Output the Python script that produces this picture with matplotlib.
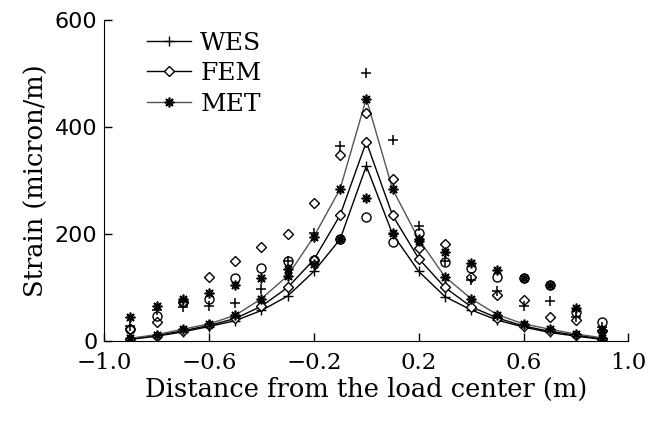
import numpy as np
import matplotlib
matplotlib.use('Agg')
from matplotlib import pyplot as plt

# distance from load center (m)
x = [-0.9, -0.8, -0.7, -0.6, -0.5, -0.4, -0.3, -0.2, -0.1, 0.0,
     0.1, 0.2, 0.3, 0.4, 0.5, 0.6, 0.7, 0.8, 0.9]

# model lines
wes = [3, 9, 17, 27, 38, 57, 84, 130, 190, 327, 200, 130, 83, 58, 39, 26, 16, 9, 3]
fem = [4, 10, 19, 29, 42, 65, 100, 152, 235, 372, 235, 154, 100, 64, 43, 28, 18, 11, 4]
met = [5, 12, 22, 32, 48, 79, 122, 195, 284, 453, 284, 190, 120, 79, 49, 32, 22, 13, 6]

# measured points
meas_plus = [28, 58, 64, 66, 71, 98, 150, 201, 365, 500, 375, 214, 150, 114, 94, 66, 75, 45, 26]
meas_diam = [22, 36, 72, 120, 150, 176, 200, 258, 348, 426, 302, 174, 181, 120, 86, 77, 45, 39, 18]
meas_circ = [22, 47, 72, 78, 118, 137, 150, 152, 190, 231, 184, 202, 148, 137, 120, 118, 105, 54, 36]
meas_star = [45, 66, 79, 90, 105, 118, 135, 143, 190, 267, 202, 186, 167, 146, 133, 118, 105, 62, 21]

xticks = [-1.0, -0.6, -0.2, 0.2, 0.6, 1.0]
yticks = [0, 200, 400, 600]

serif = 'DejaVu Serif'
star = (8, 2, 0)

fig = plt.figure(figsize=(6.6, 4.22), dpi=100)
ax = fig.add_axes([0.158, 0.192, 0.794, 0.761])

ax.plot(x, wes, color='black', lw=1.0, marker='+', ms=7, mew=1.0, label='WES')
ax.plot(x, fem, color='black', lw=1.0, marker='D', ms=5, mfc='white', mew=1.0, label='FEM')
ax.plot(x, met, color='#555555', lw=1.0, marker=star, ms=7, mew=1.2, mec='black', label='MET')

ax.plot(x, meas_plus, ls='none', color='black', marker='+', ms=7, mew=1.1)
ax.plot(x, meas_diam, ls='none', color='black', marker='D', ms=5.5, mfc='none', mew=1.0)
ax.plot(x, meas_circ, ls='none', color='black', marker='o', ms=6.5, mfc='none', mew=1.0)
ax.plot(x, meas_star, ls='none', color='black', marker=star, ms=7, mew=1.2)

ax.set_xlim(-1.0, 1.0)
ax.set_ylim(0, 600)
ax.set_xticks(xticks)
ax.set_xticklabels(['\u22121.0', '\u22120.6', '\u22120.2', '0.2', '0.6', '1.0'],
                   family=serif, fontsize=16.5)
ax.set_yticks(yticks)
ax.set_yticklabels([str(v) for v in yticks], fontsize=16)
ax.tick_params(direction='in', length=6, width=1.0)
ax.tick_params(axis='x', pad=8)
ax.tick_params(axis='y', pad=5)
ax.spines['top'].set_visible(False)
ax.spines['right'].set_visible(False)

ax.set_xlabel('Distance from the load center (m)', family=serif, fontsize=18.5, labelpad=2)
ax.set_ylabel('Strain (micron/m)', family=serif, fontsize=18.5, labelpad=4)

ax.legend(loc='upper left', bbox_to_anchor=(0.082, 0.963), frameon=False,
          prop={'family': serif, 'size': 18}, handlelength=1.76,
          labelspacing=0.3, handletextpad=0.36, borderpad=0, borderaxespad=0)

plt.savefig('out.png', dpi=100)
